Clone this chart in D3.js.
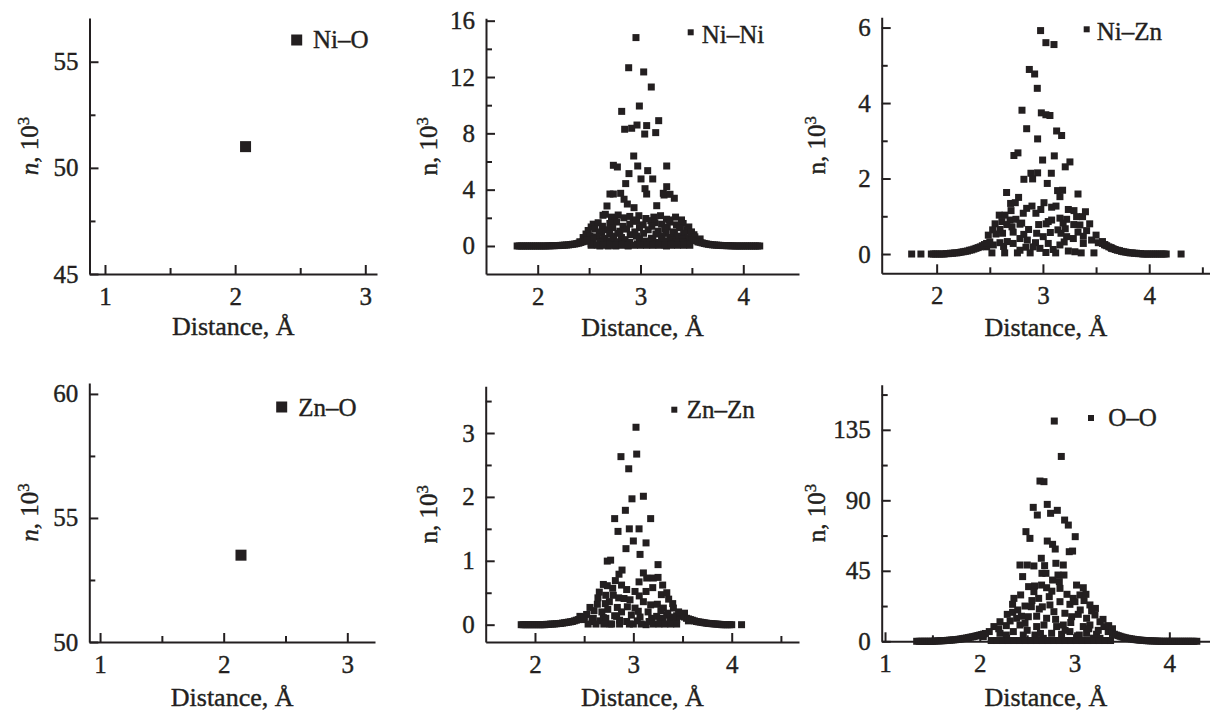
<!DOCTYPE html>
<html>
<head>
<meta charset="utf-8">
<script src="https://cdn.jsdelivr.net/npm/d3@7"></script>
<style>
  body { margin: 0; background: #fff; }
  svg { display: block; font-family: "Liberation Serif", "Times New Roman", serif; }
  text { font-family: "Liberation Serif", "Times New Roman", serif; fill: #231f20;
         stroke: #231f20; stroke-width: 0.4; }
  .axis path, .axis line { stroke: #231f20; stroke-width: 2; }
</style>
</head>
<body>
<svg id="chart" width="1210" height="713"></svg>
<script>
// ---- data (distance in Å, n in 10^3) ----
var xTitle = 'Distance, Å';

var niO = [[2.08, 51.0]];
var znO = [[2.14, 53.5]];

var niNi = [
  // peak
  [2.956,14.8],[2.885,12.66],[3.031,12.36],[3.105,11.29],[2.989,9.94],[2.817,9.56],[3.177,8.90],
  [2.966,8.59],[3.060,8.55],[2.914,8.36],[2.846,8.29],[3.041,7.95],[3.148,8.05],[2.934,6.39],
  [2.736,5.73],[2.775,5.61],[2.973,5.68],[3.255,5.68],[3.070,5.35],[2.888,5.14],[3.005,4.76],
  [3.119,4.76],[2.856,4.43],[3.044,4.07],[3.060,3.69],[3.222,3.74],[3.255,4.21],[3.229,3.62],
  [3.287,3.67],[3.329,3.39],[2.703,3.69],[2.736,3.69],[2.807,3.74],[2.840,3.32],[2.872,2.98],
  [2.937,2.72],[3.158,2.86],[2.674,2.84],[2.658,2.25],[2.635,2.18],
  // core
  [2.718,2.05],[2.783,2.2],[2.838,2.0],[2.896,2.1],[2.984,2.15],[3.052,1.95],[3.130,2.05],
  [3.195,2.15],[3.253,1.9],[3.341,2.05],[3.399,1.85],
  [2.75,1.8],[2.93,1.85],[3.10,1.8],[3.28,1.85],
  [2.540,1.55],[2.588,1.65],[2.702,1.6],[2.767,1.7],[2.896,1.55],[2.961,1.75],[3.026,1.5],
  [3.140,1.65],[3.205,1.55],[3.286,1.7],[3.350,1.5],[3.415,1.6],
  [2.52,1.35],[2.63,1.4],[2.73,1.3],[2.83,1.4],[2.99,1.3],[3.11,1.4],[3.26,1.35],[3.38,1.3],[3.47,1.35],
  [2.491,1.1],[2.556,1.2],[2.621,1.0],[2.686,1.15],[2.799,1.05],[2.864,1.2],[2.945,1.0],
  [3.075,1.15],[3.172,1.05],[3.237,1.2],[3.318,1.0],[3.448,1.1],[3.496,1.0],
  [2.47,0.85],[2.60,0.9],[2.70,0.85],[2.78,0.9],[2.90,0.8],[3.03,0.9],[3.15,0.85],[3.25,0.9],
  [3.33,0.85],[3.42,0.9],[3.52,0.8],
  [2.442,0.6],[2.507,0.7],[2.572,0.65],[2.653,0.55],[2.734,0.7],[2.815,0.6],[2.961,0.7],
  [3.107,0.55],[3.205,0.7],[3.286,0.6],[3.367,0.7],[3.464,0.6],[3.529,0.65],
  [2.45,0.45],[2.54,0.5],[2.64,0.45],[2.74,0.5],[2.85,0.45],[2.99,0.5],[3.12,0.45],[3.21,0.5],
  [3.31,0.45],[3.40,0.5],[3.50,0.45],[3.58,0.5],
  [2.41,0.3],[2.475,0.35],[2.605,0.25],[2.702,0.35],[2.783,0.3],[2.896,0.25],[3.042,0.35],
  [3.091,0.3],[3.156,0.25],[3.253,0.35],[3.350,0.3],[3.415,0.25],[3.561,0.3],
  [2.52,0.15],[2.68,0.15],[2.82,0.12],[2.97,0.15],[3.14,0.12],[3.30,0.15],[3.46,0.12],
  [2.605,0],[2.686,0],[2.760,0],[2.880,0],[3.253,0],
  [2.52,0.05],[2.58,0.05],[2.64,0.05],[2.70,0.05],[2.76,0.05],[2.82,0.05],[2.88,0.05],[2.94,0.05],
  [3.00,0.05],[3.06,0.05],[3.12,0.05],[3.18,0.05],[3.24,0.05],[3.30,0.05],[3.36,0.05],[3.42,0.05],[3.48,0.05],
  // tails
  [1.80,0],[1.82,0],[1.84,0],[1.86,0],[1.88,0],[1.90,0],[1.92,0],[1.94,0],[1.96,0],[1.98,0],
  [2.00,0],[2.02,0],[2.04,0],[2.06,0],[2.08,0],[2.10,0.01],[2.12,0.01],[2.14,0.02],[2.16,0.02],
  [2.18,0.03],[2.20,0.03],[2.22,0.04],[2.24,0.05],[2.26,0.06],[2.28,0.07],[2.30,0.08],[2.32,0.1],
  [2.34,0.12],[2.36,0.14],[2.38,0.17],[2.40,0.2],[2.42,0.25],[2.44,0.3],[2.46,0.35],[2.48,0.4],
  [3.52,0.45],[3.54,0.37],[3.56,0.3],[3.58,0.26],[3.60,0.22],[3.62,0.18],[3.64,0.15],[3.66,0.12],
  [3.68,0.1],[3.70,0.08],[3.72,0.07],[3.74,0.06],[3.76,0.05],[3.78,0.04],[3.80,0.03],[3.82,0.03],
  [3.84,0.02],[3.86,0.02],[3.88,0.01],[3.90,0.01],[3.92,0],[3.94,0],[3.96,0],[3.98,0],[4.00,0],
  [4.02,0],[4.04,0],[4.06,0],[4.08,0],[4.10,0],[4.12,0],[4.14,0],[4.16,0]
];

var niZn = [
  // peak
  [2.978,5.92],[3.028,5.60],[3.104,5.55],[2.872,4.89],[2.922,4.77],[2.947,4.39],[2.803,3.81],
  [2.985,3.74],[3.028,3.69],[3.066,3.67],[2.847,3.32],[3.129,3.26],[3.176,3.14],[2.950,3.05],
  [2.727,2.61],[2.765,2.68],[2.997,2.49],[3.107,2.60],[3.210,2.31],[3.254,2.44],[2.887,2.14],
  [2.950,2.15],[2.821,1.98],[2.903,1.99],[3.079,2.14],[3.041,1.87],
  // core
  [2.658,1.63],[2.771,1.50],[2.696,1.34],[2.740,1.36],[3.138,1.68],[3.185,1.69],[3.160,1.52],
  [3.330,1.59],[3.010,1.36],[2.847,1.21],[2.897,1.27],[3.082,1.24],[3.123,1.27],[3.239,1.18],
  [3.292,1.15],[2.70,1.15],[2.98,1.18],[3.40,1.12],
  [2.589,1.03],[2.643,1.03],[2.815,1.08],[2.934,1.08],[3.160,0.95],[3.223,0.92],
  [3.317,0.99],[3.373,0.99],[2.614,0.86],[2.690,0.90],[2.746,0.92],[3.082,0.90],[3.050,0.86],
  [2.55,0.8],[2.66,0.78],[2.80,0.82],[2.96,0.78],[3.03,0.8],[3.19,0.82],[3.29,0.78],[3.44,0.8],
  [2.709,0.72],[2.784,0.79],[2.865,0.65],[3.141,0.64],[3.210,0.67],[3.348,0.77],[3.411,0.62],
  [2.527,0.64],[2.596,0.65],[2.486,0.50],[2.558,0.53],[2.941,0.55],[3.003,0.46],[2.784,0.41],
  [2.62,0.55],[2.72,0.58],[2.82,0.52],[3.07,0.57],[3.17,0.55],[3.33,0.58],[3.50,0.5],
  [2.853,0.37],[2.665,0.33],[2.596,0.30],[3.223,0.46],[3.286,0.41],[3.380,0.47],[3.458,0.37],
  [2.50,0.32],[2.72,0.28],[2.93,0.3],[3.05,0.28],[3.20,0.32],[3.38,0.28],[3.56,0.33],[2.63,0.2],
  [3.521,0.30],[2.909,0.19],[2.972,0.15],[3.097,0.12],[3.160,0.24],[2.784,0.10],[2.840,0.18],
  [3.028,0.04],[3.239,0.08],[3.301,0.06],[2.470,0.19],[2.533,0.24],[3.584,0.24],[3.646,0.15],
  [2.52,0.03],[2.64,0.03],[2.76,0.03],[2.88,0.03],[3.12,0.03],[3.36,0.03],[3.48,0.03],
  // tails
  [1.765,0],[1.852,0],[1.95,0],[1.97,0],[1.99,0],[2.01,0],[2.03,0],[2.05,0],[2.07,0],[2.09,0.01],
  [2.11,0.01],[2.13,0.02],[2.15,0.02],[2.17,0.03],[2.19,0.03],[2.21,0.04],[2.23,0.05],[2.25,0.06],
  [2.27,0.07],[2.29,0.08],[2.31,0.1],[2.33,0.11],[2.35,0.13],[2.37,0.15],[2.39,0.17],[2.41,0.19],
  [2.43,0.22],[2.45,0.25],[2.47,0.28],
  [3.56,0.28],[3.58,0.25],[3.60,0.22],[3.62,0.19],[3.64,0.17],[3.66,0.14],[3.68,0.12],[3.70,0.1],
  [3.72,0.09],[3.74,0.07],[3.76,0.06],[3.78,0.05],[3.80,0.04],[3.82,0.03],[3.84,0.03],[3.86,0.02],
  [3.88,0.02],[3.90,0.01],[3.92,0.01],[3.94,0],[3.96,0],[3.98,0],[4.00,0],[4.02,0],[4.04,0],
  [4.06,0],[4.08,0],[4.10,0],[4.12,0],[4.14,0],[4.16,0],[4.30,0]
];

var znZn = [
  // peak
  [3.027,3.09],[3.034,2.67],[2.874,2.63],[2.953,2.44],[2.986,1.97],[3.102,2.01],[2.919,1.79],
  [2.810,1.66],[3.176,1.66],[2.844,1.46],[2.959,1.50],[3.058,1.50],[3.000,1.31],[3.129,1.28],
  [2.925,1.19],[3.068,1.10],[2.735,0.995],[2.769,1.01],[3.251,0.94],
  // core
  [2.885,0.855],[2.854,0.79],[2.817,0.69],[3.102,0.81],[3.058,0.67],[3.136,0.73],[3.203,0.73],
  [3.251,0.74],[2.695,0.63],[2.735,0.61],[2.654,0.51],[2.790,0.57],[2.796,0.46],[2.932,0.55],
  [3.017,0.52],[3.129,0.52],[3.197,0.58],[3.298,0.62],[3.285,0.47],[2.756,0.36],[2.715,0.33],
  [2.851,0.42],[2.905,0.41],[2.966,0.39],[3.102,0.36],[3.176,0.31],[3.244,0.32],[3.359,0.40],
  [3.400,0.33],[2.634,0.32],[2.559,0.27],[2.837,0.27],[2.939,0.28],[3.017,0.26],[3.305,0.26],
  [3.407,0.26],[2.525,0.16],[2.457,0.13],[2.810,0.14],[2.830,0.13],[2.980,0.15],[3.068,0.12],
  [3.186,0.10],[3.237,0.13],[3.339,0.15],[3.440,0.14],[3.508,0.13],[2.932,0.05],[3.000,0.01],
  [3.129,0.0],[2.661,0.06],[2.763,0.01],[2.593,0.10],[2.695,0.11],[3.271,0.07],[3.373,0.06],
  [2.60,0.22],[2.68,0.2],[2.74,0.24],[2.88,0.2],[3.05,0.21],[3.15,0.2],[3.28,0.22],[3.35,0.18],
  [3.46,0.2],[3.52,0.18],[2.50,0.08],[2.58,0.05],[2.72,0.1],[2.86,0.07],[3.04,0.06],[3.16,0.05],
  [3.30,0.1],[3.44,0.08],[3.56,0.06],[2.64,0.42],[2.72,0.46],[3.06,0.45],[3.34,0.5],[2.88,0.62],
  [3.40,0.12],
  [2.54,0.01],[2.62,0.01],[2.70,0.01],[2.78,0.01],[2.86,0.01],[2.96,0.01],
  [3.08,0.01],[3.20,0.01],[3.26,0.01],[3.32,0.01],[3.38,0.01],[3.44,0.01],
  // tails
  [1.86,0],[1.88,0],[1.90,0],[1.92,0],[1.94,0],[1.96,0],[1.98,0],[2.00,0],[2.02,0],[2.04,0],
  [2.06,0],[2.08,0],[2.10,0],[2.12,0.005],[2.14,0.005],[2.16,0.01],[2.18,0.01],[2.20,0.012],
  [2.22,0.015],[2.24,0.018],[2.26,0.02],[2.28,0.025],[2.30,0.03],[2.32,0.035],[2.34,0.04],
  [2.36,0.045],[2.38,0.05],[2.40,0.06],[2.42,0.07],[2.44,0.08],[2.46,0.09],[2.48,0.1],[2.50,0.12],
  [3.52,0.12],[3.54,0.1],[3.56,0.09],[3.58,0.08],[3.60,0.07],[3.62,0.06],[3.64,0.05],[3.66,0.045],
  [3.68,0.04],[3.70,0.035],[3.72,0.03],[3.74,0.025],[3.76,0.02],[3.78,0.018],[3.80,0.015],
  [3.82,0.012],[3.84,0.01],[3.86,0.008],[3.88,0.005],[3.90,0],[3.92,0],[3.94,0],[3.96,0],
  [3.98,0],[4.00,0],[4.10,0]
];

var oO = [
  // peak
  [2.786,140.6],[2.860,118.0],[2.635,102.3],[2.677,101.9],[2.564,85.5],[2.712,87.4],[2.607,80.6],
  [2.747,81.7],[2.818,83.6],[2.895,77.4],[2.934,74.2],[2.487,70.0],[2.529,65.7],[3.007,66.8],
  [2.712,64.0],[2.768,61.9],[2.796,58.9],[2.944,57.2],[2.979,57.6],[2.649,53.0],
  // core
  [2.424,48.7],[2.501,48.7],[2.571,48.1],[2.684,48.3],[2.803,49.8],[2.881,48.7],[2.452,41.3],
  [2.656,43.4],[2.698,43.4],[2.825,42.3],[2.888,42.3],[2.768,39.1],[2.515,34.9],[2.578,35.3],
  [2.652,35.9],[2.705,34.2],[2.839,38.1],[2.846,33.8],[3.021,35.9],[3.092,34.2],[2.360,27.4],
  [2.346,23.6],[2.431,29.6],[2.571,31.7],[2.621,27.4],[2.733,28.5],[2.846,25.3],[2.986,27.4],
  [3.057,29.6],[3.120,30.0],[2.477,22.5],[2.544,22.1],[2.628,20.6],[2.740,23.2],[2.951,23.6],
  [3.004,25.3],[3.162,23.2],[3.180,19.4],[2.290,17.2],[2.346,18.5],[2.389,14.7],[2.512,15.7],
  [2.705,14.7],[2.782,18.9],[2.898,17.9],[2.969,15.7],[3.039,17.2],[3.127,14.7],[3.215,16.8],
  [3.268,12.5],[2.213,12.5],[2.149,9.4],[2.424,10.4],[2.477,11.5],[2.600,9.4],[2.677,10.4],
  [2.811,9.4],[2.881,10.4],[3.092,9.4],[3.162,10.4],[3.310,9.4],[2.100,6.2],[2.213,5.1],
  [2.354,6.2],[2.459,4.0],[2.582,4.0],[2.758,5.1],[2.863,4.5],[2.951,6.2],[3.127,5.1],
  [3.232,4.5],[3.355,6.2],[2.037,3.0],[2.283,1.9],[2.670,1.9],[3.021,2.3],[3.268,1.9],
  [2.20,8],[2.28,10],[2.32,13],[2.40,20],[2.44,16],[2.55,26],[2.60,16],[2.66,22],[2.76,32],
  [2.80,14],[2.92,30],[2.96,12],[3.06,20],[3.10,26],[3.15,8],[3.22,21],[3.25,7],[3.30,14],
  [3.36,10],[3.40,8],[2.28,4],[2.50,7],[2.64,5],[2.90,7],[3.05,4],[3.20,2],
  [2.12,0.5],[2.18,0.5],[2.24,0.5],[2.30,0.5],[2.36,0.5],[2.42,0.5],[2.48,0.5],[2.54,0.5],
  [2.60,0.5],[2.66,0.5],[2.72,0.5],[2.78,0.5],[2.84,0.5],[2.90,0.5],[2.96,0.5],[3.02,0.5],
  [3.08,0.5],[3.14,0.5],[3.20,0.5],[3.26,0.5],[3.32,0.5],[3.38,0.5],
  // tails
  [1.334,0],[1.36,0],[1.38,0],[1.40,0],[1.42,0],[1.44,0],[1.46,0],[1.48,0],[1.50,0],[1.52,0.1],
  [1.54,0.2],[1.56,0.25],[1.58,0.3],[1.60,0.35],[1.62,0.4],[1.64,0.5],[1.66,0.6],[1.68,0.7],
  [1.70,0.8],[1.72,0.9],[1.74,1.0],[1.76,1.15],[1.78,1.3],[1.80,1.5],[1.82,1.7],[1.84,1.9],
  [1.86,2.1],[1.88,2.35],[1.90,2.6],[1.92,2.85],[1.94,3.1],[1.96,3.4],[1.98,3.7],[2.00,4.0],
  [2.02,4.3],[2.04,4.6],[2.06,5.0],
  [3.40,5.0],[3.42,4.5],[3.44,4.0],[3.46,3.6],[3.48,3.2],[3.50,2.8],[3.52,2.5],[3.54,2.2],
  [3.56,1.9],[3.58,1.7],[3.60,1.5],[3.62,1.3],[3.64,1.1],[3.66,0.95],[3.68,0.8],[3.70,0.7],
  [3.72,0.6],[3.74,0.5],[3.76,0.4],[3.78,0.35],[3.80,0.3],[3.82,0.25],[3.84,0.2],[3.86,0.15],
  [3.88,0.1],[3.90,0.05],[3.92,0],[3.94,0],[3.96,0],[3.98,0],[4.00,0],[4.02,0],[4.04,0],
  [4.06,0],[4.08,0],[4.10,0],[4.12,0],[4.14,0],[4.16,0],[4.18,0],[4.20,0],[4.22,0],[4.24,0],
  [4.26,0],[4.29,0]
];

// tick values
var niOXTicks = [1, 2, 3],    niOXMinor = [1.5, 2.5];
var niOYTicks = [45, 50, 55], niOYMinor = [47.5, 52.5];
var niNiXTicks = [2, 3, 4],   niNiXMinor = [2.5, 3.5];
var niNiYTicks = [0, 4, 8, 12, 16], niNiYMinor = [2, 6, 10, 14];
var niZnXTicks = [2, 3, 4],   niZnXMinor = [2.5, 3.5, 4.5];
var niZnYTicks = [0, 2, 4, 6], niZnYMinor = [1, 3, 5];
var znOXTicks = [1, 2, 3],    znOXMinor = [1.5, 2.5];
var znOYTicks = [50, 55, 60], znOYMinor = [52.5, 57.5];
var znZnXTicks = [2, 3, 4],   znZnXMinor = [2.5, 3.5, 4.5];
var znZnYTicks = [0, 1, 2, 3], znZnYMinor = [0.5, 1.5, 2.5, 3.5];
var oOXTicks = [1, 2, 3, 4],  oOXMinor = [1.5, 2.5, 3.5];
var oOYTicks = [0, 45, 90, 135], oOYMinor = [22.5, 67.5, 112.5, 157.5];

// ---- layout ----
var panels = [
  { label: 'Ni–O', pts: niO, size: 11, italic: true,
    xRange: [89.5, 377], xDom: [0.881, 3.09], yRange: [274, 18], yDom: [45, 57.06],
    xt: niOXTicks, xm: niOXMinor, yt: niOYTicks, ym: niOYMinor,
    yTitleX: 37.7, xTitleY: 335, leg: [296.7, 40, 11, 313, 48.3] },
  { label: 'Ni–Ni', pts: niNi, size: 7, italic: false,
    xRange: [486, 799], xDom: [1.497, 4.542], yRange: [274, 18.3], yDom: [-1.99, 16.17],
    xt: niNiXTicks, xm: niNiXMinor, yt: niNiYTicks, ym: niNiYMinor,
    yTitleX: 436.7, xTitleY: 336, leg: [690.7, 32.3, 6, 701.7, 42.7] },
  { label: 'Ni–Zn', pts: niZn, size: 7, italic: false,
    xRange: [881.7, 1210], xDom: [1.483, 4.572], yRange: [273.3, 17.3], yDom: [-0.511, 6.272],
    xt: niZnXTicks, xm: niZnXMinor, yt: niZnYTicks, ym: niZnYMinor,
    yTitleX: 825, xTitleY: 336, leg: [1086.7, 29.3, 6, 1096.7, 40] },
  { label: 'Zn–O', pts: znO, size: 11, italic: true,
    xRange: [89.3, 375], xDom: [0.913, 3.224], yRange: [642, 383], yDom: [50, 60.44],
    xt: znOXTicks, xm: znOXMinor, yt: znOYTicks, ym: znOYMinor,
    yTitleX: 38, xTitleY: 706, leg: [281.7, 407, 11, 298.3, 415.7] },
  { label: 'Zn–Zn', pts: znZn, size: 7, italic: false,
    xRange: [485.7, 799], xDom: [1.499, 4.684], yRange: [642, 386.3], yDom: [-0.271, 3.731],
    xt: znZnXTicks, xm: znZnXMinor, yt: znZnYTicks, ym: znZnYMinor,
    yTitleX: 436.7, xTitleY: 706, leg: [674.3, 409.7, 6, 686.7, 418] },
  { label: 'O–O', pts: oO, size: 7, italic: false,
    xRange: [881.7, 1210], xDom: [0.965, 4.429], yRange: [641.3, 384.7], yDom: [0, 163.8],
    xt: oOXTicks, xm: oOXMinor, yt: oOYTicks, ym: oOYMinor,
    yTitleX: 825, xTitleY: 706, leg: [1091, 418, 6, 1108.3, 426.3] }
];

var ink = '#231f20';
var serif = '"Liberation Serif", "Times New Roman", serif';
var svg = d3.select('#chart');

function styleAxis(sel) {
  sel.attr('font-size', 25).attr('font-family', serif);
  sel.selectAll('text').attr('fill', ink).attr('font-family', serif);
}

panels.forEach(function (p) {
  var x = d3.scaleLinear().domain(p.xDom).range(p.xRange);
  var y = d3.scaleLinear().domain(p.yDom).range(p.yRange);
  var g = svg.append('g');
  var x0 = p.xRange[0], y0 = p.yRange[0];

  // minor ticks
  g.append('g').attr('class', 'axis')
    .attr('transform', 'translate(0,' + y0 + ')')
    .call(d3.axisBottom(x).tickValues(p.xm).tickSize(-6).tickSizeOuter(0).tickFormat(''))
    .select('.domain').remove();
  g.append('g').attr('class', 'axis')
    .attr('transform', 'translate(' + x0 + ',0)')
    .call(d3.axisLeft(y).tickValues(p.ym).tickSize(-6).tickSizeOuter(0).tickFormat(''))
    .select('.domain').remove();

  // major axes
  g.append('g').attr('class', 'axis')
    .attr('transform', 'translate(0,' + y0 + ')')
    .call(d3.axisBottom(x).tickValues(p.xt).tickSize(-9).tickSizeOuter(0)
      .tickPadding(13).tickFormat(d3.format('d')))
    .call(styleAxis);
  g.append('g').attr('class', 'axis')
    .attr('transform', 'translate(' + x0 + ',0)')
    .call(d3.axisLeft(y).tickValues(p.yt).tickSize(-9).tickSizeOuter(0)
      .tickPadding(11).tickFormat(d3.format('d')))
    .call(styleAxis);

  // points
  g.append('g').selectAll('rect')
    .data(p.pts)
    .join('rect')
    .attr('x', function (d) { return x(d[0]) - p.size / 2; })
    .attr('y', function (d) { return y(d[1]) - p.size / 2; })
    .attr('width', p.size)
    .attr('height', p.size)
    .attr('fill', ink);

  // legend
  var L = p.leg;
  g.append('rect')
    .attr('x', L[0] - L[2] / 2).attr('y', L[1] - L[2] / 2)
    .attr('width', L[2]).attr('height', L[2])
    .attr('fill', ink);
  g.append('text')
    .attr('x', L[3]).attr('y', L[4])
    .attr('font-size', 25).attr('font-family', serif)
    .text(p.label);

  // x title
  g.append('text')
    .attr('x', (p.xRange[0] + p.xRange[1]) / 2)
    .attr('y', p.xTitleY)
    .attr('text-anchor', 'middle')
    .attr('font-size', 26).attr('font-family', serif)
    .text(xTitle);

  // y title
  var yt = g.append('text')
    .attr('transform', 'translate(' + p.yTitleX + ',' + (p.yRange[0] + p.yRange[1]) / 2 + ') rotate(-90)')
    .attr('text-anchor', 'middle')
    .attr('font-size', 25).attr('font-family', serif);
  yt.append('tspan').attr('font-style', p.italic ? 'italic' : 'normal').text('n');
  yt.append('tspan').text(', 10');
  yt.append('tspan').attr('font-size', 17).attr('dy', -9).text('3');
});
</script>
</body>
</html>
